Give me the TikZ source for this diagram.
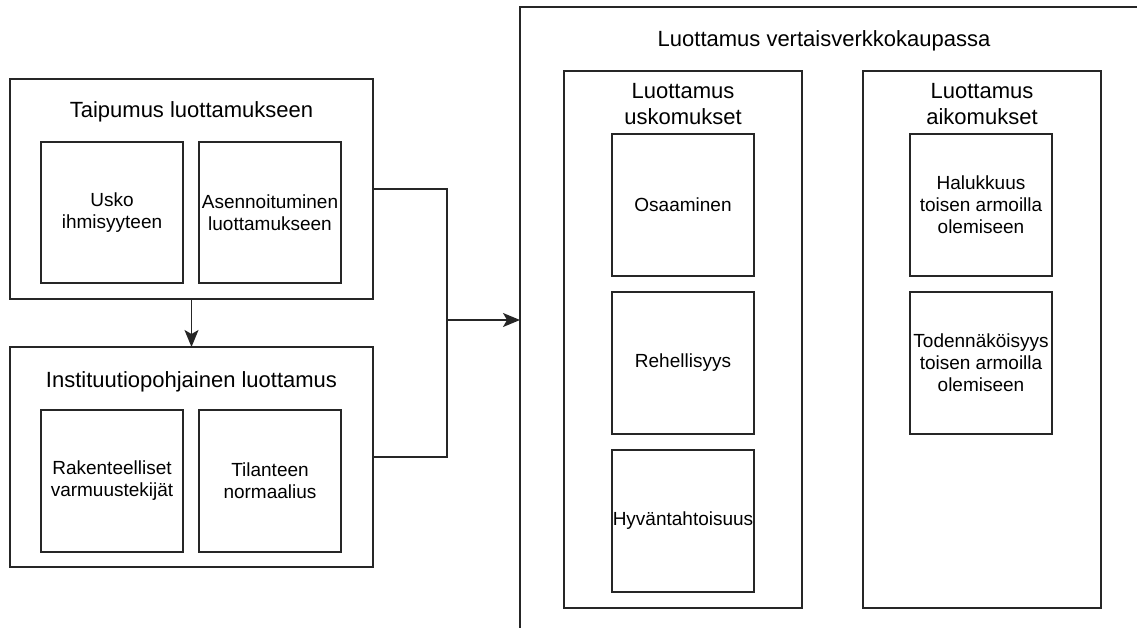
\documentclass[tikz,border=0pt]{standalone}
\usepackage{fontspec}
\setmainfont{Liberation Sans}
\usetikzlibrary{arrows.meta}
\tikzset{
  frame/.style={draw=black!85, line width=1.3pt, inner sep=0pt, outer sep=0pt, fill=none},
  itembox/.style={frame, minimum width=142pt, minimum height=142pt, align=center, font=\fontsize{19}{22}\selectfont},
  ttl/.style={inner sep=0pt, align=center, font=\fontsize{22}{26}\selectfont},
  conn/.style={draw=black!85, line width=1.4pt},
  arr/.style={conn, -{Stealth[length=17pt,width=14pt,inset=4pt]}}
}
\begin{document}
\begin{tikzpicture}[x=1pt,y=-1pt]
\useasboundingbox (0,0) rectangle (1137,628);
\clip (0,0) rectangle (1137,628);
% left group
\node[frame, minimum width=363pt, minimum height=220pt] (b1) at (191.5,189) {};
\node[ttl] (t1) at (191.5,112) {Taipumus luottamukseen};
\node[itembox, minimum height=141pt] (usko) at (112,212.5) {Usko\\ihmisyyteen};
\node[itembox, minimum height=141pt] (asen) at (270,212.5) {Asennoituminen\\luottamukseen};
\node[frame, minimum width=363pt, minimum height=220pt] (b2) at (191.5,457) {};
\node[ttl] (t2) at (191.5,382) {Instituutiopohjainen luottamus};
\node[itembox] (rak) at (112,481) {Rakenteelliset\\varmuustekijät};
\node[itembox] (til) at (270,481) {Tilanteen\\normaalius};
% big container
\node[frame, minimum width=624pt, minimum height=626pt] (big) at (832,320) {};
\node[ttl] (tbig) at (824,41) {Luottamus vertaisverkkokaupassa};
\node[frame, minimum width=238pt, minimum height=537pt] (colL) at (683,339.5) {};
\node[ttl] (tL) at (683,104) {Luottamus\\uskomukset};
\node[itembox] (osa) at (683,205) {Osaaminen};
\node[itembox] (reh) at (683,363) {Rehellisyys};
\node[itembox] (hyv) at (683,521) {Hyväntahtoisuus};
\node[frame, minimum width=238pt, minimum height=537pt] (colR) at (982,339.5) {};
\node[ttl] (tR) at (982,104) {Luottamus\\aikomukset};
\node[itembox] (hal) at (981,205) {Halukkuus\\toisen armoilla\\olemiseen};
\node[itembox] (tod) at (981,363) {Todennäköisyys\\toisen armoilla\\olemiseen};
% connectors
\coordinate (j) at (447,320);
\draw[arr] (b1.south) -- (b2.north);
\draw[conn] (b1.east) -| (j);
\draw[conn] (b2.east) -| (j);
\draw[arr] (j) -- (j -| big.west);
\end{tikzpicture}
\end{document}
